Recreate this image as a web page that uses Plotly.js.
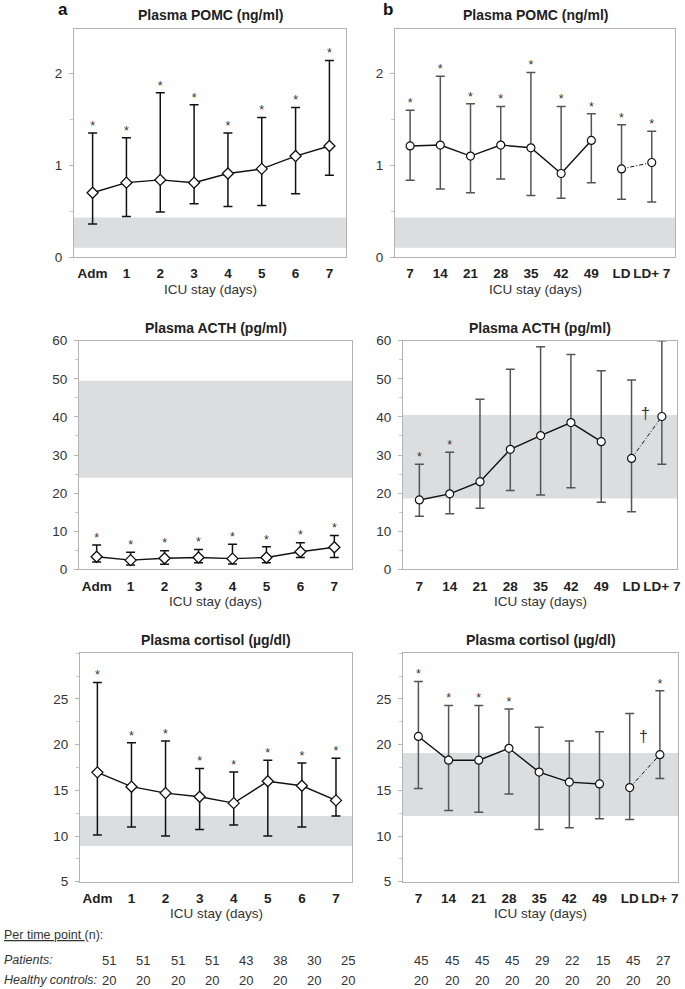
<!DOCTYPE html>
<html>
<head>
<meta charset="utf-8">
<script src="https://cdn.plot.ly/plotly-3.0.1.min.js"></script>
<style>html,body{margin:0;padding:0;background:#fff;}#chart{width:685px;height:989px;}</style>
</head>
<body>
<div id="chart"></div>
<script>
// ---------- data ----------
const daysA = ['Adm','1','2','3','4','5','6','7'];
const daysB = ['7','14','21','28','35','42','49','LD','LD+ 7'];

const pomcA_med = [0.70,0.81,0.84,0.81,0.91,0.96,1.10,1.21];
const pomcA_lo  = [0.36,0.44,0.49,0.58,0.55,0.56,0.69,0.89];
const pomcA_hi  = [1.35,1.30,1.79,1.66,1.35,1.52,1.63,2.14];
const pomcA_sig = [1,1,1,1,1,1,1,1];

const pomcB_med = [1.21,1.22,1.10,1.22,1.19,0.91,1.27,0.96,1.03];
const pomcB_lo  = [0.835,0.74,0.70,0.85,0.67,0.64,0.81,0.63,0.60];
const pomcB_hi  = [1.60,1.97,1.67,1.64,2.01,1.64,1.56,1.44,1.37];
const pomcB_sig = [1,1,1,1,1,1,1,1,1];

const acthA_med = [3.3,2.4,2.9,3.1,2.8,3.1,4.6,5.8];
const acthA_lo  = [1.9,1.1,1.3,1.7,1.4,1.7,3.1,3.1];
const acthA_hi  = [6.4,4.5,4.9,5.2,6.6,5.9,7.0,8.9];
const acthA_sig = [1,1,1,1,1,1,1,1];

const acthB_med = [18.2,19.8,23.0,31.5,35.1,38.5,33.5,29.1,40.1];
const acthB_lo  = [13.9,14.6,16.0,20.7,19.5,21.4,17.6,15.1,27.6];
const acthB_hi  = [27.6,30.7,44.6,52.5,58.4,56.4,52.1,49.7,60.0];
const acthB_sig = [1,1,0,0,0,0,0,0,0];

const cortA_med = [16.97,15.4,14.7,14.3,13.6,16.0,15.5,13.9];
const cortA_lo  = [10.1,11.0,10.0,10.7,11.2,10.0,11.0,12.2];
const cortA_hi  = [26.8,20.2,20.4,17.4,17.0,18.3,18.0,18.5];
const cortA_sig = [1,1,1,1,1,1,1,1];

const cortB_med = [20.9,18.3,18.3,19.6,17.0,15.9,15.7,15.3,18.9];
const cortB_lo  = [15.2,12.8,12.6,14.6,10.7,10.9,11.9,11.8,16.3];
const cortB_hi  = [26.9,24.3,24.3,23.9,21.9,20.4,21.4,23.4,25.9];
const cortB_sig = [1,1,1,1,0,0,0,0,1];

// y tick labels
const pomcTicks = [0,1,2];
const acthTicks = [0,10,20,30,40,50,60];
const cortTicks = [5,10,15,20,25];

// healthy reference ranges (grey bands)
const pomcRefA = [0.10,0.43];
const pomcRefB = [0.10,0.43];
const acthRefA = [24.0,49.5];
const acthRefB = [18.6,40.5];
const cortRefA = [8.9,12.2];
const cortRefB = [12.2,19.1];

// LD vs LD+7 dagger
const acthDagger = [7.45, 41.0];
const cortDagger = [7.45, 20.9];

// n per time point
const patientsA = [51,51,51,51,43,38,30,25];
const controlsA = [20,20,20,20,20,20,20,20];
const patientsB = [45,45,45,45,29,22,15,45,27];
const controlsB = [20,20,20,20,20,20,20,20,20];

// ---------- helpers ----------
const W = 685, H = 989;
const FONT = 'Liberation Sans, Arial, Helvetica, sans-serif';
const px = v => v / W;
const py = v => 1 - v / H;

const panels = [
  {ax:'',  box:[74,346,28.5,257],  xr:[-0.55,7.49], yr:[0,2.49], tv:pomcTicks, mdt:0.5, title:'Plasma POMC (ng/ml)',
   med:pomcA_med, lo:pomcA_lo, hi:pomcA_hi, sig:pomcA_sig, labels:daysA, band:pomcRefA, side:'A'},
  {ax:'2', box:[395,675,28.5,257], xr:[-0.5,8.77],  yr:[0,2.49], tv:pomcTicks, mdt:0.5, title:'Plasma POMC (ng/ml)',
   med:pomcB_med, lo:pomcB_lo, hi:pomcB_hi, sig:pomcB_sig, labels:daysB, band:pomcRefB, side:'B'},
  {ax:'3', box:[79,352,340.7,569.3], xr:[-0.52,7.52], yr:[0,60], tv:acthTicks, mdt:5, title:'Plasma ACTH (pg/ml)',
   med:acthA_med, lo:acthA_lo, hi:acthA_hi, sig:acthA_sig, labels:daysA, band:acthRefA, side:'A'},
  {ax:'4', box:[403,677,340.7,569.3], xr:[-0.54,8.5], yr:[0,60], tv:acthTicks, mdt:5, title:'Plasma ACTH (pg/ml)',
   med:acthB_med, lo:acthB_lo, hi:acthB_hi, sig:acthB_sig, labels:daysB, band:acthRefB, side:'B', dagger:acthDagger},
  {ax:'5', box:[80,352,653.3,881.7], xr:[-0.51,7.47], yr:[5,30], tv:cortTicks, mdt:2.5, title:'Plasma cortisol (µg/dl)',
   med:cortA_med, lo:cortA_lo, hi:cortA_hi, sig:cortA_sig, labels:daysA, band:cortRefA, side:'A'},
  {ax:'6', box:[403,678,653.3,881.7], xr:[-0.51,8.6], yr:[5,30], tv:cortTicks, mdt:2.5, title:'Plasma cortisol (µg/dl)',
   med:cortB_med, lo:cortB_lo, hi:cortB_hi, sig:cortB_sig, labels:daysB, band:cortRefB, side:'B', dagger:cortDagger}
];

const traces = [];
const layout = {
  width: W, height: H,
  margin: {l:0, r:0, t:0, b:0},
  paper_bgcolor: '#fff', plot_bgcolor: '#fff',
  showlegend: false,
  font: {family: FONT, size: 13, color: '#333'},
  shapes: [], annotations: []
};

panels.forEach(p => {
  const xa = 'x' + p.ax, ya = 'y' + p.ax;
  const xs = p.labels.map((_, i) => i);
  const isB = p.side === 'B';
  const nSolid = isB ? 7 : xs.length;

  layout['xaxis' + p.ax] = {
    domain: [px(p.box[0]), px(p.box[1])], range: p.xr, anchor: ya,
    showline: true, mirror: true, linecolor: '#b3b3b3', linewidth: 1,
    showgrid: false, zeroline: false, ticks: '',
    tickvals: xs, ticktext: p.labels,
    tickfont: {family: FONT, size: 13.5, color: '#222', weight: 'bold'},
    ticklabelstandoff: 4
  };
  layout['yaxis' + p.ax] = {
    domain: [py(p.box[3]), py(p.box[2])], range: p.yr, anchor: xa,
    showline: true, mirror: true, linecolor: '#b3b3b3', linewidth: 1,
    showgrid: false, zeroline: false,
    ticks: 'outside', ticklen: 4, tickcolor: '#b3b3b3', tickwidth: 1,
    tickmode: 'array', tickvals: p.tv,
    minor: {ticks: 'outside', ticklen: 3, tickcolor: '#c8c8c8', dtick: p.mdt, tick0: 0},
    tickfont: {family: FONT, size: 13.5, color: '#333'},
    ticklabelstandoff: 4
  };

  // reference band
  layout.shapes.push({
    type: 'rect', xref: xa + ' domain', yref: ya, x0: 0, x1: 1,
    y0: p.band[0], y1: p.band[1], fillcolor: '#dcdddf', line: {width: 0}, layer: 'below'
  });

  // lines
  traces.push({
    x: xs.slice(0, nSolid), y: p.med.slice(0, nSolid), xaxis: xa, yaxis: ya,
    mode: 'lines', line: {color: '#111', width: 1.4}, hoverinfo: 'skip'
  });
  if (isB) {
    traces.push({
      x: xs.slice(7), y: p.med.slice(7), xaxis: xa, yaxis: ya,
      mode: 'lines', line: {color: '#111', width: 1, dash: '4px,2px,1px,2px'}, hoverinfo: 'skip'
    });
  }
  // markers + IQR bars
  traces.push({
    x: xs, y: p.med, xaxis: xa, yaxis: ya, mode: 'markers',
    error_y: {
      type: 'data', symmetric: false,
      array: p.hi.map((v, i) => v - p.med[i]),
      arrayminus: p.lo.map((v, i) => p.med[i] - v),
      color: isB ? '#555' : '#111', thickness: 1.5, width: 4.5
    },
    marker: isB
      ? {symbol: 'circle', size: 8, color: '#fff', line: {color: '#111', width: 1.2}}
      : {symbol: 'diamond', size: 8.5, color: '#fff', line: {color: '#111', width: 1.3}},
    hoverinfo: 'skip'
  });
  // significance stars
  const sx = [], sy = [];
  xs.forEach((x, i) => { if (p.sig[i]) { sx.push(x); sy.push(p.hi[i]); } });
  traces.push({
    x: sx, y: sy, xaxis: xa, yaxis: ya, mode: 'text', text: sx.map(() => '*'),
    textposition: 'top center', textfont: {family: FONT, size: 12.5, color: '#333'},
    hoverinfo: 'skip', cliponaxis: false
  });
  if (p.dagger) {
    layout.annotations.push({
      xref: xa, yref: ya, x: p.dagger[0], y: p.dagger[1], text: '†', showarrow: false,
      font: {family: FONT, size: 16, color: '#333'}, xanchor: 'center', yanchor: 'middle'
    });
  }
  // panel title
  layout.annotations.push({
    xref: 'paper', yref: 'paper', x: px((p.box[0] + p.box[1]) / 2), y: py(p.box[2] - 13),
    text: '<b>' + p.title + '</b>', showarrow: false, xanchor: 'center', yanchor: 'middle',
    font: {family: FONT, size: 14, color: '#222'}
  });
  // x-axis title
  layout.annotations.push({
    xref: 'paper', yref: 'paper', x: px((p.box[0] + p.box[1]) / 2), y: py(p.box[3] + 32),
    text: 'ICU stay (days)', showarrow: false, xanchor: 'center', yanchor: 'middle',
    font: {family: FONT, size: 13.5, color: '#333'}
  });
});

// panel letters
layout.annotations.push({xref:'paper', yref:'paper', x:px(63), y:py(10), text:'<b>a</b>', showarrow:false,
  xanchor:'center', yanchor:'middle', font:{family:FONT, size:17, color:'#111'}});
layout.annotations.push({xref:'paper', yref:'paper', x:px(388), y:py(10), text:'<b>b</b>', showarrow:false,
  xanchor:'center', yanchor:'middle', font:{family:FONT, size:17, color:'#111'}});

// table of n per time point
const TFONT = {family: FONT, size: 13, color: '#333'};
const LFONT = {family: FONT, size: 12.5, color: '#333'};
layout.annotations.push({xref:'paper', yref:'paper', x:px(2), y:py(935), text:'<u>Per time point </u>(n):',
  showarrow:false, xanchor:'left', yanchor:'middle', font:LFONT});
layout.annotations.push({xref:'paper', yref:'paper', x:px(2), y:py(960), text:'<i>Patients:</i>',
  showarrow:false, xanchor:'left', yanchor:'middle', font:LFONT});
layout.annotations.push({xref:'paper', yref:'paper', x:px(2), y:py(980), text:'<i>Healthy controls:</i>',
  showarrow:false, xanchor:'left', yanchor:'middle', font:LFONT});
function addRow(vals, xref, yPix, shift) {
  vals.forEach((v, i) => layout.annotations.push({
    xref: xref, yref: 'paper', x: i, y: py(yPix), xshift: shift, text: String(v), showarrow: false,
    xanchor: 'center', yanchor: 'middle', font: TFONT
  }));
}
addRow(patientsA, 'x5', 960, 12);
addRow(controlsA, 'x5', 980, 12);
addRow(patientsB, 'x6', 960, 3);
addRow(controlsB, 'x6', 980, 3);

Plotly.newPlot('chart', traces, layout, {displayModeBar: false, staticPlot: true});
</script>
</body>
</html>
